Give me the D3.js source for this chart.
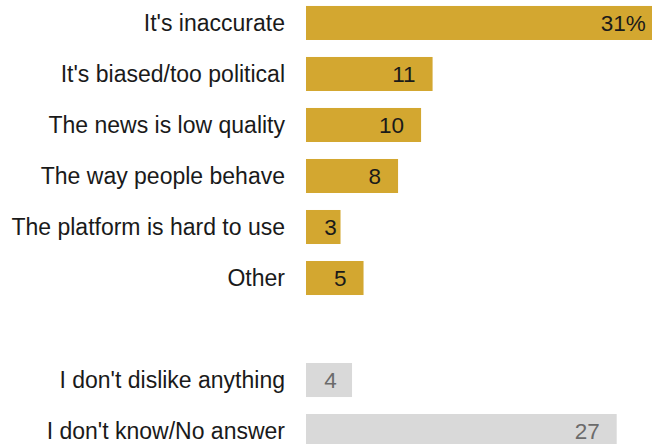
<!DOCTYPE html>
<html>
<head>
<meta charset="utf-8">
<script src="https://cdn.jsdelivr.net/npm/d3@7"></script>
<style>
html,body{margin:0;padding:0;background:#fff;overflow:hidden;}
svg{display:block;}
</style>
</head>
<body>
<svg id="chart" width="652" height="444"></svg>
<script>
const categories = ["It's inaccurate","It's biased/too political","The news is low quality","The way people behave","The platform is hard to use","Other","","I don't dislike anything","I don't know/No answer"];
const values = [31, 11, 10, 8, 3, 5, null, 4, 27];
const groups = ["dislike","dislike","dislike","dislike","dislike","dislike","gap","none","none"];
const valueLabels = ["31%","11","10","8","3","5","","4","27"];

const svg = d3.select("#chart");
const x = d3.scaleLinear().domain([0, 27]).range([306, 616.7]);
const y = d3.scaleBand().domain(d3.range(categories.length)).range([-2.5, 456.5]).paddingInner(0.333).paddingOuter(0.166);

const fill = {dislike: "#D3A730", none: "#D9D9D9"};
const textCol = {dislike: "#1a1a1a", none: "#6b6b6b"};

const rows = categories.map((c, i) => ({c, v: values[i], g: groups[i], l: valueLabels[i], i})).filter(d => d.v !== null);

svg.selectAll("rect.bar").data(rows).join("rect")
  .attr("class", "bar")
  .attr("x", x(0))
  .attr("y", d => y(d.i))
  .attr("width", d => x(d.v) - x(0))
  .attr("height", y.bandwidth())
  .attr("fill", d => fill[d.g]);

svg.selectAll("text.cat").data(rows).join("text")
  .attr("class", "cat")
  .attr("x", 285)
  .attr("y", d => y(d.i) + y.bandwidth() / 2 + 8)
  .attr("text-anchor", "end")
  .attr("font-family", "Liberation Sans, Arial, sans-serif")
  .attr("font-size", 23)
  .attr("fill", "#1a1a1a")
  .text(d => d.c);

svg.selectAll("text.val").data(rows).join("text")
  .attr("class", "val")
  .attr("x", d => Math.max(x(d.v) - 17, x(0) + 30.7))
  .attr("y", d => y(d.i) + y.bandwidth() / 2 + 8)
  .attr("text-anchor", "end")
  .attr("font-family", "Liberation Sans, Arial, sans-serif")
  .attr("font-size", 22.5)
  .attr("fill", d => textCol[d.g])
  .text(d => d.l);
</script>
</body>
</html>
